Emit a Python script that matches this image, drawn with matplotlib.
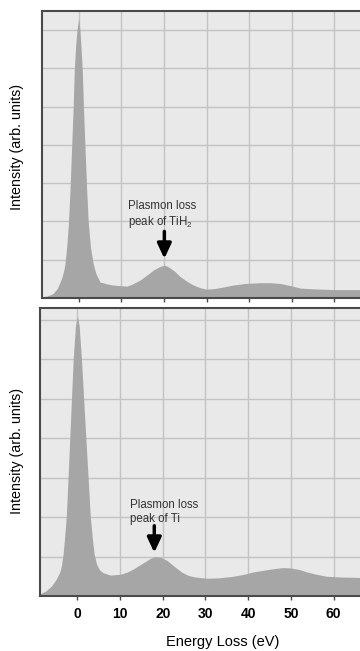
import matplotlib
matplotlib.use("Agg")
import matplotlib.pyplot as plt

plt.rcParams['font.family'] = ['Liberation Sans', 'DejaVu Sans']
plt.rcParams['mathtext.fontset'] = 'custom'
plt.rcParams['mathtext.rm'] = 'Liberation Sans'
plt.rcParams['mathtext.it'] = 'Liberation Sans'

# ---- data ----
E_top = [-8.6, -7.5, -6.5, -6.0, -5.0, -4.5, -4.0, -3.5, -3.2, -2.8, -2.4, -2.0, -1.65, -1.3,
         -1.03, -0.7, -0.4, 0.0, 0.3, 0.55, 0.85, 1.15, 1.48, 1.85, 2.26, 2.8, 3.4, 4.0, 5.0,
         6.6, 8.0, 10.0, 11.3, 12.5, 14.4, 16.0, 17.5, 19.0, 20.1, 21.0, 22.5, 23.8, 25.5,
         26.9, 28.5, 30.0, 32.0, 34.0, 36.3, 39.0, 42.6, 45.0, 47.3, 49.5, 52.0, 55.0, 59.8, 66.0]
I_top = [0.03, 0.05, 0.09, 0.12, 0.25, 0.38, 0.52, 0.72, 0.9, 1.35, 1.95, 2.9, 3.95, 4.95,
         5.95, 6.6, 7.0, 7.3, 7.0, 6.55, 5.95, 4.9, 3.95, 2.9, 1.95, 1.3, 0.9, 0.65, 0.42,
         0.37, 0.34, 0.32, 0.31, 0.36, 0.47, 0.6, 0.73, 0.82, 0.86, 0.82, 0.7, 0.56, 0.43,
         0.34, 0.27, 0.23, 0.25, 0.29, 0.34, 0.38, 0.40, 0.40, 0.38, 0.33, 0.26, 0.24, 0.22, 0.22]

E_bot = [-8.7, -7.5, -6.1, -5.0, -4.1, -3.7, -3.35, -3.0, -2.6, -2.2, -1.8, -1.4, -1.0, -0.47,
         0.0, 0.4, 0.94, 1.45, 1.97, 2.5, 3.0, 3.45, 3.9, 4.5, 5.2, 6.0, 7.7, 10.0, 11.5, 13.0,
         14.5, 16.0, 17.0, 18.2, 19.5, 21.0, 22.8, 24.5, 26.0, 27.2, 28.5, 30.3, 33.0, 36.5,
         39.0, 41.2, 44.0, 46.5, 48.2, 50.0, 52.0, 53.7, 56.0, 58.4, 62.0, 66.2]
I_bot = [0.06, 0.12, 0.25, 0.42, 0.62, 0.8, 1.07, 1.5, 2.03, 3.0, 4.0, 5.0, 6.0, 6.85,
         7.1, 6.85, 6.0, 5.0, 4.0, 3.0, 2.03, 1.5, 1.07, 0.8, 0.66, 0.59, 0.53, 0.55, 0.6, 0.68,
         0.78, 0.88, 0.95, 1.0, 0.98, 0.9, 0.74, 0.6, 0.52, 0.49, 0.47, 0.45, 0.46, 0.5,
         0.55, 0.61, 0.66, 0.7, 0.72, 0.71, 0.67, 0.61, 0.55, 0.5, 0.48, 0.47]

x_ticks = [0, 10, 20, 30, 40, 50, 60]
y_grid = [1, 2, 3, 4, 5, 6, 7]

label_top = "Plasmon loss\npeak of TiH$_2$"
label_bot = "Plasmon loss\npeak of Ti"
peak_top = 20.1
peak_bot = 18.0

# ---- styling ----
BG = '#e9e9e9'
FILL = '#a6a6a6'
GRID = '#c3c3c3'
SPINE = '#4a4a4a'

fig = plt.figure(figsize=(3.6, 6.51), dpi=100)
ax1 = fig.add_axes([0.1167, 0.5422, 0.8833, 0.4409])
ax2 = fig.add_axes([0.112, 0.0845, 0.888, 0.4424])

def style(ax, xlim, ylim):
    ax.set_facecolor(BG)
    ax.set_xlim(*xlim)
    ax.set_ylim(*ylim)
    ax.set_xticks(x_ticks)
    ax.set_yticks(y_grid)
    ax.grid(True, color=GRID, lw=1.0, zorder=0)
    ax.set_axisbelow(True)
    for s in ['top', 'left', 'bottom']:
        ax.spines[s].set_color(SPINE)
        ax.spines[s].set_linewidth(1.5)
    ax.spines['right'].set_visible(False)
    ax.tick_params(axis='y', length=0, labelleft=False)
    ax.tick_params(axis='x', length=3, width=1, color=SPINE, direction='out')

style(ax1, (-8.6, 66.0), (0, 7.5))
style(ax2, (-8.7, 66.2), (0, 7.3))

ax1.fill_between(E_top, 0, I_top, color=FILL, lw=0, zorder=2)
ax2.fill_between(E_bot, 0, I_bot, color=FILL, lw=0, zorder=2)

ax1.tick_params(axis='x', labelbottom=False)
ax2.tick_params(axis='x', labelsize=10, pad=5)
for t in ax2.get_xticklabels():
    t.set_fontweight('bold')

ax2.set_xlabel("Energy Loss (eV)", fontsize=10.5)
ax2.xaxis.set_label_coords(0.571, -0.136)

ax1.set_ylabel("Intensity (arb. units)", fontsize=10.3)
ax2.set_ylabel("Intensity (arb. units)", fontsize=10.3)
ax1.yaxis.set_label_coords(-0.058, 0.527)
ax2.yaxis.set_label_coords(-0.05, 0.505)

arrow = dict(arrowstyle='-|>,head_length=0.9,head_width=0.42', lw=2.5, color='black',
             shrinkA=0, shrinkB=0)
ax1.text(11.5, 2.57, label_top, fontsize=8.3, color='#333333', ha='left', va='top',
         linespacing=1.25, zorder=4)
ax1.annotate('', xy=(peak_top, 1.03), xytext=(peak_top, 1.74), arrowprops=arrow, zorder=5)

ax2.text(12.2, 2.47, label_bot, fontsize=8.3, color='#333333', ha='left', va='top',
         linespacing=1.25, zorder=4)
ax2.annotate('', xy=(peak_bot, 1.1), xytext=(peak_bot, 1.78), arrowprops=arrow, zorder=5)

fig.savefig('out.png', dpi=100, facecolor='white')
